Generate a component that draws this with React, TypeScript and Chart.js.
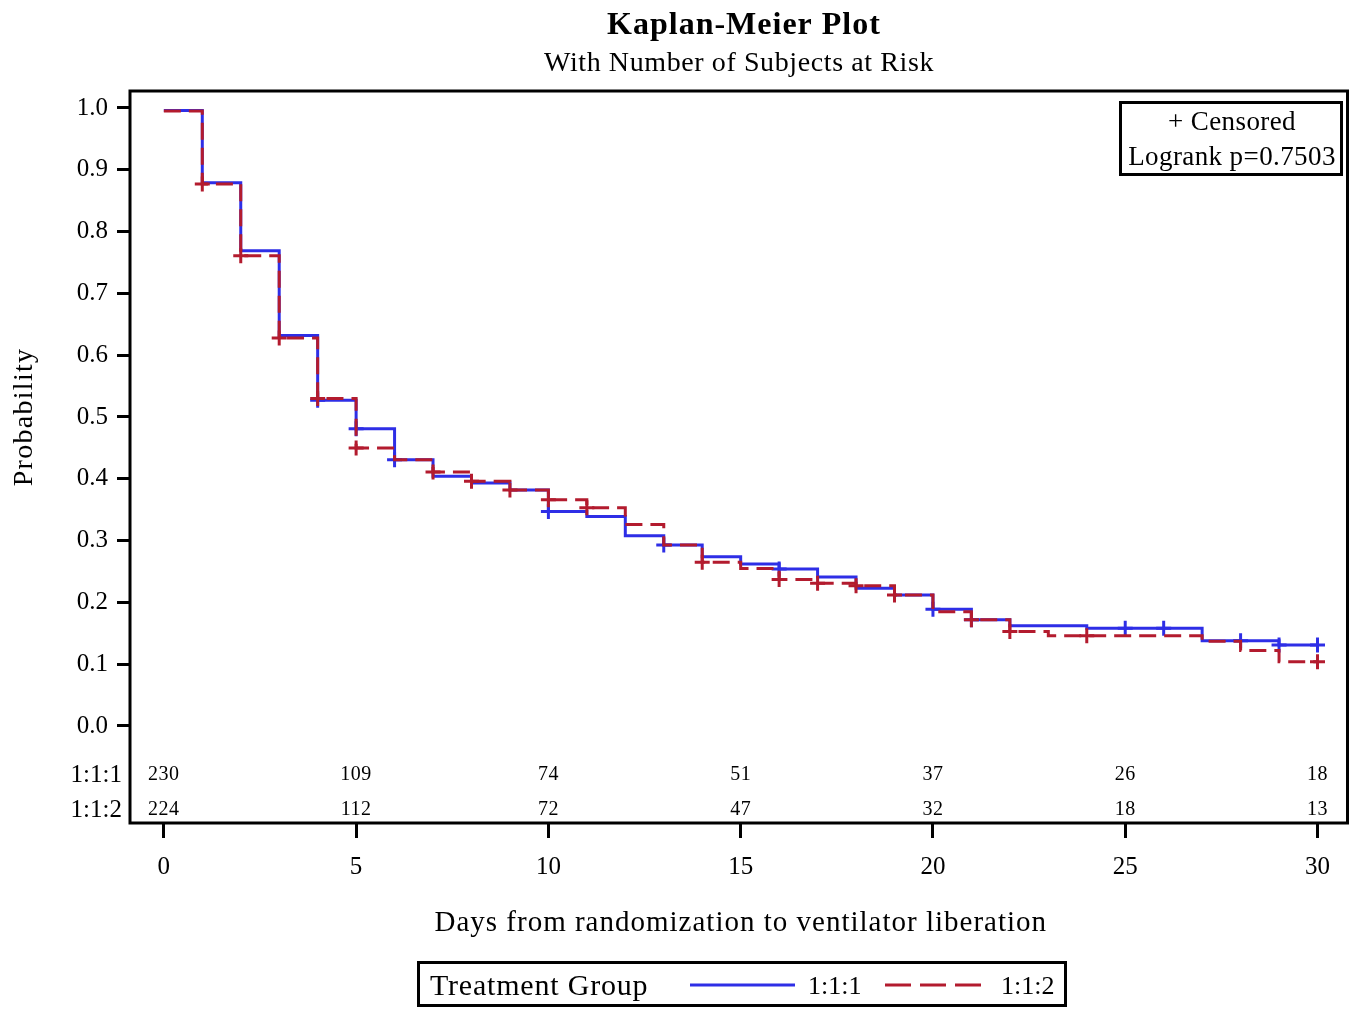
import { useEffect, useRef } from "react";
import { Chart, registerables } from "chart.js";

Chart.register(...registerables);

// ---- data ----
const days = [0, 1, 2, 3, 4, 5, 6, 7, 8, 9, 10, 11, 12, 13, 14, 15, 16, 17, 18, 19, 20, 21, 22, 23, 24, 25, 26, 27, 28, 29, 30];
const survival111 = [0.996, 0.879, 0.769, 0.632, 0.527, 0.481, 0.431, 0.404, 0.393, 0.382, 0.347, 0.339, 0.308, 0.293, 0.274, 0.262, 0.254, 0.241, 0.223, 0.212, 0.189, 0.172, 0.162, 0.162, 0.158, 0.158, 0.158, 0.138, 0.138, 0.131, 0.131];
const survival112 = [0.995, 0.877, 0.761, 0.628, 0.530, 0.450, 0.431, 0.411, 0.396, 0.382, 0.366, 0.353, 0.326, 0.293, 0.265, 0.255, 0.237, 0.231, 0.227, 0.212, 0.185, 0.172, 0.153, 0.146, 0.146, 0.146, 0.146, 0.137, 0.122, 0.104, 0.104];
const censor111 = [4, 5, 6, 10, 13, 16, 20, 21, 25, 26, 28, 29, 30];
const censor112 = [1, 2, 3, 4, 5, 7, 8, 9, 10, 11, 14, 16, 17, 18, 19, 21, 22, 24, 30];
const riskTimes = [0, 5, 10, 15, 20, 25, 30];
const atRisk111 = [230, 109, 74, 51, 37, 26, 18];
const atRisk112 = [224, 112, 72, 47, 32, 18, 13];
const xTicks = [0, 5, 10, 15, 20, 25, 30];
const yTicks = [0, 0.1, 0.2, 0.3, 0.4, 0.5, 0.6, 0.7, 0.8, 0.9, 1.0];
const groupLabels = ["1:1:1", "1:1:2"];

const BLUE = "#2e2ee6";
const RED = "#b31b2e";
const FONT = '"Liberation Serif", "Times New Roman", serif';

function valueAt(times: number[], vals: number[], t: number) {
  let v = vals[0];
  for (let i = 0; i < times.length; i++) if (times[i] <= t) v = vals[i];
  return v;
}

function drawText(ctx: CanvasRenderingContext2D, s: string, x: number, y: number, font: string, align: CanvasTextAlign, spacing = 0) {
  ctx.font = font;
  (ctx as any).letterSpacing = spacing + "px";
  ctx.textAlign = align;
  ctx.textBaseline = "middle";
  ctx.fillStyle = "#000";
  ctx.fillText(s, x, y + 2);
  (ctx as any).letterSpacing = "0px";
}

const decorPlugin = {
  id: "kmDecor",
  afterDraw(chart: any) {
    const { ctx, chartArea: a, scales } = chart;
    const x = scales.x;
    const y = scales.y;
    ctx.save();
    // frame
    ctx.strokeStyle = "#000";
    ctx.lineWidth = 3;
    ctx.strokeRect(a.left, a.top, a.right - a.left, a.bottom - a.top);

    // titles
    drawText(ctx, "Kaplan-Meier Plot", 744, 24, `bold 32px ${FONT}`, "center", 1);
    drawText(ctx, "With Number of Subjects at Risk", 739, 62, `28px ${FONT}`, "center", 0.6);

    // y title
    ctx.save();
    ctx.translate(25, y.getPixelForValue(0.5));
    ctx.rotate(-Math.PI / 2);
    drawText(ctx, "Probability", 0, -2, `28px ${FONT}`, "center", 1.3);
    ctx.restore();

    // x title
    drawText(ctx, "Days from randomization to ventilator liberation", (a.left + a.right) / 2 + 2, 921, `29px ${FONT}`, "center", 1);

    // at-risk table
    const rowsY = [a.bottom - 50, a.bottom - 15];
    const rows = [atRisk111, atRisk112];
    rows.forEach((row, r) => {
      row.forEach((n, i) => {
        drawText(ctx, String(n), x.getPixelForValue(riskTimes[i]), rowsY[r], `20px ${FONT}`, "center", 0.5);
      });
      drawText(ctx, groupLabels[r], a.left - 8, rowsY[r], `25px ${FONT}`, "right", 0);
    });

    // censored / logrank box
    ctx.strokeStyle = "#000";
    ctx.lineWidth = 3;
    ctx.strokeRect(1120.5, 102.5, 221, 72);
    drawText(ctx, "+ Censored", 1232, 121, `27px ${FONT}`, "center", 0.4);
    drawText(ctx, "Logrank p=0.7503", 1232, 156, `27px ${FONT}`, "center", 0.4);

    // legend
    ctx.lineWidth = 3;
    ctx.strokeRect(418.5, 962.5, 647, 43);
    drawText(ctx, "Treatment Group", 430, 985, `30px ${FONT}`, "left", 0.8);
    ctx.strokeStyle = BLUE;
    ctx.lineWidth = 3;
    ctx.setLineDash([]);
    ctx.beginPath();
    ctx.moveTo(690, 985);
    ctx.lineTo(795, 985);
    ctx.stroke();
    drawText(ctx, groupLabels[0], 808, 985, `26px ${FONT}`, "left", 0);
    ctx.strokeStyle = RED;
    ctx.setLineDash([26, 9]);
    ctx.beginPath();
    ctx.moveTo(885, 985);
    ctx.lineTo(981, 985);
    ctx.stroke();
    ctx.setLineDash([]);
    drawText(ctx, groupLabels[1], 1001, 985, `26px ${FONT}`, "left", 0);
    ctx.restore();
  },
};

export default function App() {
  const ref = useRef<HTMLCanvasElement | null>(null);
  useEffect(() => {
    if (!ref.current) return;
    const line111 = days.map((d, i) => ({ x: d, y: survival111[i] }));
    const line112 = days.map((d, i) => ({ x: d, y: survival112[i] }));
    const cens111 = censor111.map((t) => ({ x: t, y: valueAt(days, survival111, t) }));
    const cens112 = censor112.map((t) => ({ x: t, y: valueAt(days, survival112, t) }));
    const chart = new Chart(ref.current, {
      type: "line",
      data: {
        datasets: [
          {
            label: "1:1:1",
            data: line111,
            borderColor: BLUE,
            borderWidth: 3,
            stepped: true,
            pointRadius: 0,
            fill: false,
            order: 4,
          },
          {
            label: "1:1:1 censored",
            data: cens111,
            showLine: false,
            pointStyle: "cross",
            pointRadius: 7.5,
            pointBorderWidth: 3,
            pointBorderColor: BLUE,
            borderColor: BLUE,
            order: 3,
          },
          {
            label: "1:1:2",
            data: line112,
            borderColor: RED,
            borderWidth: 3,
            borderDash: [17, 8],
            stepped: true,
            pointRadius: 0,
            fill: false,
            order: 2,
          },
          {
            label: "1:1:2 censored",
            data: cens112,
            showLine: false,
            pointStyle: "cross",
            pointRadius: 7.5,
            pointBorderWidth: 3,
            pointBorderColor: RED,
            borderColor: RED,
            order: 1,
          },
        ],
      },
      options: {
        responsive: false,
        animation: false,
        events: [],
        layout: { padding: { top: 91, right: 8, left: 0, bottom: 0 } },
        plugins: {
          legend: { display: false },
          tooltip: { enabled: false },
          title: { display: false },
        },
        scales: {
          x: {
            type: "linear",
            min: -0.88,
            max: 30.78,
            afterBuildTicks: (axis: any) => {
              axis.ticks = xTicks.map((v) => ({ value: v }));
            },
            afterFit: (scale: any) => {
              scale.height = 186;
            },
            grid: {
              drawOnChartArea: false,
              drawTicks: true,
              tickLength: 15,
              tickWidth: 3,
              tickColor: "#000",
              color: "#000",
            },
            border: { display: false },
            ticks: {
              autoSkip: false,
              maxRotation: 0,
              padding: 14,
              color: "#000",
              font: { family: FONT, size: 25 },
              callback: (v: any) => String(v),
            },
          },
          y: {
            type: "linear",
            min: -0.157,
            max: 1.0275,
            afterBuildTicks: (axis: any) => {
              axis.ticks = yTicks.map((v) => ({ value: v }));
            },
            afterFit: (scale: any) => {
              scale.width = 130;
            },
            grid: {
              drawOnChartArea: false,
              drawTicks: true,
              tickLength: 13,
              tickWidth: 3,
              tickColor: "#000",
              color: "#000",
            },
            border: { display: false },
            ticks: {
              autoSkip: false,
              padding: 9,
              color: "#000",
              font: { family: FONT, size: 25 },
              callback: (v: any) => Number(v).toFixed(1),
            },
          },
        },
      },
      plugins: [decorPlugin],
    });
    return () => chart.destroy();
  }, []);
  return (
    <div style={{ position: "fixed", left: 0, top: 0, width: 1358, height: 1009, background: "#fff" }}>
      <canvas ref={ref} width={1358} height={1009} style={{ display: "block" }} />
    </div>
  );
}
